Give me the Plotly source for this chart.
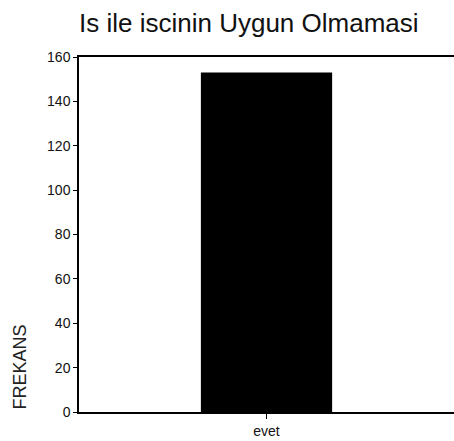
import plotly.graph_objects as go

categories = ["evet"]
frequencies = [153]

fig = go.Figure()
fig.add_trace(
    go.Bar(
        x=categories,
        y=frequencies,
        width=0.35,
        marker={"color": "#000000", "line": {"width": 0}},
    )
)

fig.add_annotation(
    text="FREKANS",
    x=0,
    y=0,
    xref="paper",
    yref="paper",
    xshift=-60,
    xanchor="center",
    yanchor="bottom",
    textangle=-90,
    showarrow=False,
    font={"size": 18, "color": "#222222"},
)

fig.update_layout(
    width=454,
    height=441,
    margin={"l": 79, "r": 0, "t": 57, "b": 29},
    paper_bgcolor="white",
    plot_bgcolor="white",
    font={"family": "Liberation Sans, Arial, sans-serif", "color": "#111111", "size": 14},
    title={
        "text": "Is ile iscinin Uygun Olmamasi",
        "x": 0.548,
        "xanchor": "center",
        "y": 0.948,
        "yanchor": "middle",
        "font": {"size": 26, "color": "#111111"},
    },
    showlegend=False,
)
fig.update_xaxes(
    range=[-0.5, 0.5],
    showline=True,
    linecolor="#000000",
    linewidth=1.5,
    mirror=True,
    ticks="outside",
    ticklen=5,
    tickcolor="#000000",
    showgrid=False,
    tickfont={"size": 14},
)
fig.update_yaxes(
    range=[0, 160],
    dtick=20,
    showline=True,
    linecolor="#000000",
    linewidth=1.5,
    ticks="outside",
    ticklen=4,
    tickcolor="#000000",
    showgrid=False,
    zeroline=False,
    tickfont={"size": 14},
)

# drop the default body margin so the figure sits at the page corner
fig.write_html(
    "out.html",
    config={"displayModeBar": False},
    post_script="document.body.style.margin='0';document.body.style.overflow='hidden';",
)
